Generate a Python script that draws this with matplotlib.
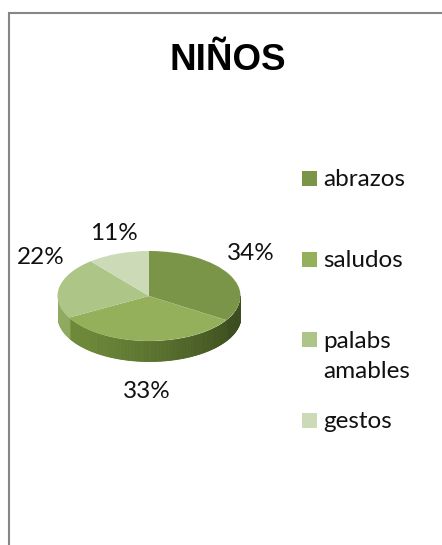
import numpy as np
import matplotlib
matplotlib.use("Agg")
import matplotlib.pyplot as plt
from matplotlib.patches import Rectangle

W, H = 442, 545

categories = ["abrazos", "saludos", "palabs\namables", "gestos"]
values = [34, 33, 22, 11]
top_colors = ["#7a9548", "#94b05a", "#adc587", "#ccdab8"]
# side wall colours, left end and right end of each slice
side_left = ["#4f6528", "#6f8c3a", "#8fab62", "#b0c494"]
side_right = ["#3c4d20", "#3c4d1e", "#7e9a50", "#b0c494"]

# pct labels and legend spots in pixels of the picture
pct_xy = [(251, 254), (147, 392), (41, 257), (114, 234)]
legend_y = [178, 259, 339.5, 420]

fig = plt.figure(figsize=(W / 100, H / 100), dpi=100)
bg = fig.add_axes([0, 0, 1, 1])
bg.set_xlim(0, W)
bg.set_ylim(H, 0)
bg.axis("off")

# outer frame, only left and top are in view
bg.plot([8.5, 8.5, W], [H, 12.5, 12.5], color="#868686", lw=1.5, solid_joinstyle="miter")

bg.text(228, 60, "NIÑOS", family="Liberation Sans", fontweight="bold", fontsize=26.5,
        ha="center", va="center", color="black")

# pie axes, squashed so the circle looks like a tilted disc
cx, cy, rx, ry, depth = 149, 296, 91.5, 45, 20
ax = fig.add_axes([(cx - rx) / W, 1 - (cy + ry + depth + 2) / H, 2 * rx / W, (2 * ry + depth + 4) / H])
ax.set_xlim(-1, 1)
ax.set_ylim(-(ry + depth + 2) / ry, (ry + 2) / ry)

fracs = np.array(values) / sum(values)
edges = 90 - 360 * np.concatenate([[0], np.cumsum(fracs)])

# side wall, thin strips so the shade can change along the rim
for i in range(len(values)):
    start = min(edges[i], edges[i + 1])
    stop = max(edges[i], edges[i + 1])
    angs = np.arange(start, stop + 1, 1.0)
    angs = angs[np.sin(np.radians(angs)) <= 0.02]
    if len(angs) < 2:
        continue
    c0 = np.array(matplotlib.colors.to_rgb(side_left[i]))
    c1 = np.array(matplotlib.colors.to_rgb(side_right[i]))
    for a0, a1 in zip(angs[:-1], angs[1:]):
        xs = np.cos(np.radians([a0, a1]))
        ys = np.sin(np.radians([a0, a1]))
        t = (xs.mean() + 1) / 2
        if i == 1:
            col = c0 + (c1 - c0) * t ** 1.4
        else:
            col = c0 + (c1 - c0) * t
        ax.fill_between(xs, ys, ys - depth / ry, color=col, lw=0.6)

ax.pie(values, colors=top_colors, startangle=90, counterclock=False, radius=1,
       wedgeprops={"linewidth": 0})
ax.set_aspect("auto")
ax.set_xlim(-1, 1)
ax.set_ylim(-(ry + depth + 2) / ry, (ry + 2) / ry)
ax.axis("off")

label_font = dict(family="Lato", fontsize=17.5, color="#111111")

for v, (x, y) in zip(values, pct_xy):
    bg.text(x, y, "%d%%" % v, ha="center", va="center", **label_font)

for name, col, y in zip(categories, top_colors, legend_y):
    bg.add_patch(Rectangle((302, y - 7.5), 15, 15, facecolor=col, edgecolor="none"))
    bg.text(323, y - 9, name, ha="left", va="top", linespacing=1.55, **label_font)

fig.savefig("out.png", dpi=100)
